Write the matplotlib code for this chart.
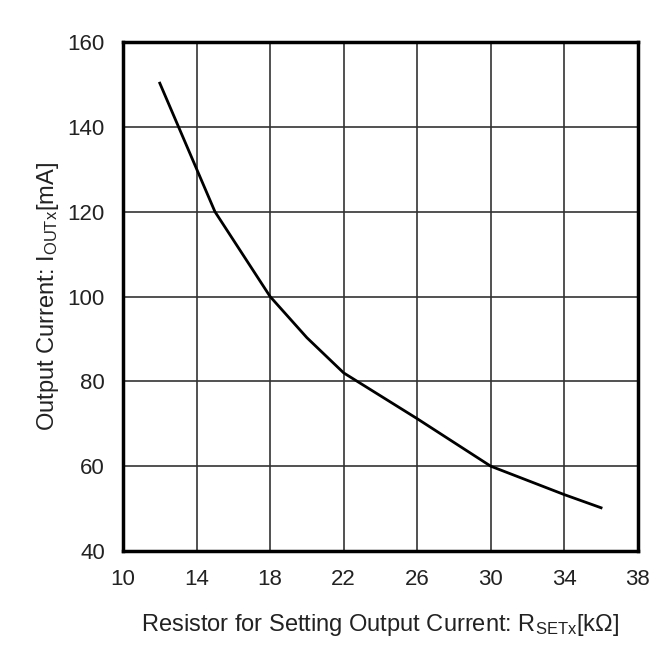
import matplotlib
matplotlib.use("Agg")
import matplotlib.pyplot as plt

plt.rcParams['font.family'] = ['Liberation Sans', 'DejaVu Sans']
plt.rcParams['mathtext.default'] = 'regular'

r_set = [12, 15, 18, 20, 22, 26, 30, 34, 36]
i_out = [150.3, 120, 100, 90.3, 82, 71.2, 60, 53.3, 50.2]
x_ticks = [10, 14, 18, 22, 26, 30, 34, 38]
y_ticks = [40, 60, 80, 100, 120, 140, 160]

fig = plt.figure(figsize=(6.7, 6.68), dpi=100)
ax = fig.add_axes([0.1836, 0.1751, 0.7684, 0.762])
ax.plot(r_set, i_out, color='black', lw=2.0, zorder=3)
ax.set_xlim(10, 38)
ax.set_ylim(40, 160)
ax.set_xticks(x_ticks)
ax.set_yticks(y_ticks)
ax.grid(True, color='#333333', lw=1.2)
ax.tick_params(length=0, labelsize=16, colors='#222222')
ax.tick_params(axis='y', pad=13)
ax.tick_params(axis='x', pad=13)
for s in ax.spines.values():
    s.set_linewidth(2.5)
    s.set_color('black')
ax.set_xlabel(r'Resistor for Setting Output Current: R$_{SETx}$[kΩ]', fontsize=17, labelpad=16, color='#222222')
ax.set_ylabel(r'Output Current: I$_{OUTx}$[mA]', fontsize=17, labelpad=5, color='#222222')
fig.savefig('out.png', dpi=100, facecolor='white')
